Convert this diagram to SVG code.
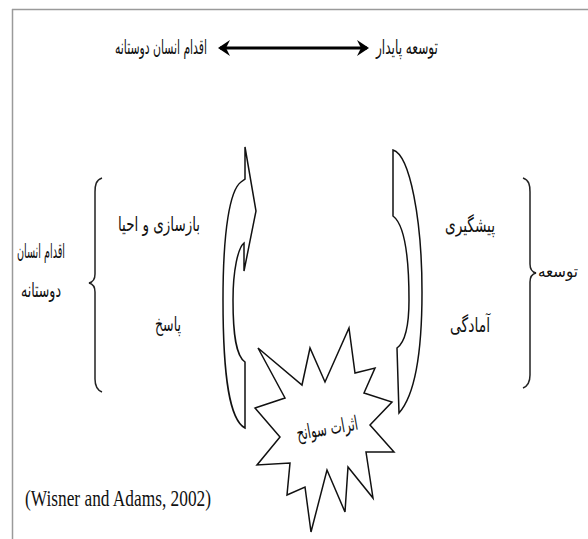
<svg xmlns="http://www.w3.org/2000/svg" width="588" height="539" viewBox="0 0 588 539">
<style>
.fa{font-family:"DejaVu Sans","Noto Sans",sans-serif;font-size:20px;fill:#111;text-anchor:middle}
.en{font-family:"Liberation Serif",serif;font-size:23px;fill:#111}
.shape{fill:#fff;stroke:#111;stroke-width:1.5;stroke-linejoin:miter}
.brace{fill:none;stroke:#222;stroke-width:1.5}
</style>
<defs>
<marker id="ah" viewBox="0 0 13 16" refX="10" refY="8" markerWidth="13" markerHeight="16" markerUnits="userSpaceOnUse" orient="auto-start-reverse">
<path d="M0,0 L12,8 L0,16 L4,8 Z" fill="#000"/>
</marker>
</defs>
<rect width="588" height="539" fill="#fff"/>
<g id="frame">
<line x1="12" y1="9.5" x2="588" y2="9.5" stroke="#9a9a9a" stroke-width="1.5"/>
<line x1="12.5" y1="9" x2="12.5" y2="539" stroke="#9a9a9a" stroke-width="1.5"/>
</g>
<g id="connectors">
<line x1="220" y1="48" x2="367" y2="48" stroke="#000" stroke-width="3" marker-start="url(#ah)" marker-end="url(#ah)"/>
</g>
<g id="top-right"><text class="fa" x="407" y="54" textLength="62" lengthAdjust="spacingAndGlyphs">توسعه پایدار</text></g>
<g id="top-left"><text class="fa" x="161" y="54" textLength="92" lengthAdjust="spacingAndGlyphs">اقدام انسان دوستانه</text></g>
<g id="left-label">
<text class="fa" x="41" y="258" textLength="48" lengthAdjust="spacingAndGlyphs">اقدام انسان</text>
<text class="fa" x="41" y="297" textLength="40" lengthAdjust="spacingAndGlyphs">دوستانه</text>
</g>
<g id="left-brace"><path class="brace" d="M102,178 C96,180 95,185 95,192 L95,274 C95,279 93,282 89,283 C93,284 95,287 95,292 L95,379 C95,386 97,390 102,392"/></g>
<g id="rebuild"><text class="fa" x="159" y="231" textLength="82" lengthAdjust="spacingAndGlyphs">بازسازی و احیا</text></g>
<g id="response"><text class="fa" x="168" y="331" textLength="26" lengthAdjust="spacingAndGlyphs">پاسخ</text></g>
<g id="prevention"><text class="fa" x="470" y="232" textLength="50" lengthAdjust="spacingAndGlyphs">پیشگیری</text></g>
<g id="preparedness"><text class="fa" x="470" y="332" textLength="40" lengthAdjust="spacingAndGlyphs">آمادگی</text></g>
<g id="right-brace"><path class="brace" d="M523,178 C529,180 530,185 530,192 L530,264 C530,269 532,272 536,273 C532,274 530,277 530,282 L530,375 C530,382 528,386 523,388"/></g>
<g id="development"><text class="fa" x="558" y="277" style="font-size:17px" textLength="40" lengthAdjust="spacingAndGlyphs">توسعه</text></g>
<g id="left-arrow"><path class="shape" d="M245,147 L256,211 L244,271 L244,243 C238,248 233,270 233,300 C233,335 236,356 245,362 L245,428 C230,420 223,380 223,300 C223,230 230,190 241,182 L245,179 Z"/></g>
<g id="right-arrow"><path class="shape" d="M393,150 C410,155 422,220 422,292 C422,352 415,395 399,413 L397,348 C404,343 409,330 409,300 C409,258 405,225 393,216 Z"/></g>
<g id="disaster">
<path class="shape" d="M349,328 L355,373 L375,368 L364,393 L392,402 L370,425 L394,452 L366,452 L373,498 L348,467 L345,512 L327,470 L311,532 L305,487 L287,495 L290,463 L257,465 L280,437 L255,408 L285,398 L258,348 L302,385 L310,348 L325,382 Z"/>
<text class="fa" x="327" y="435" textLength="62" lengthAdjust="spacingAndGlyphs" transform="rotate(-10 327 428)">اثرات سوانح</text>
</g>
<g id="citation"><text class="en" x="25" y="506" textLength="186" lengthAdjust="spacingAndGlyphs">(Wisner and Adams, 2002)</text></g>
</svg>
